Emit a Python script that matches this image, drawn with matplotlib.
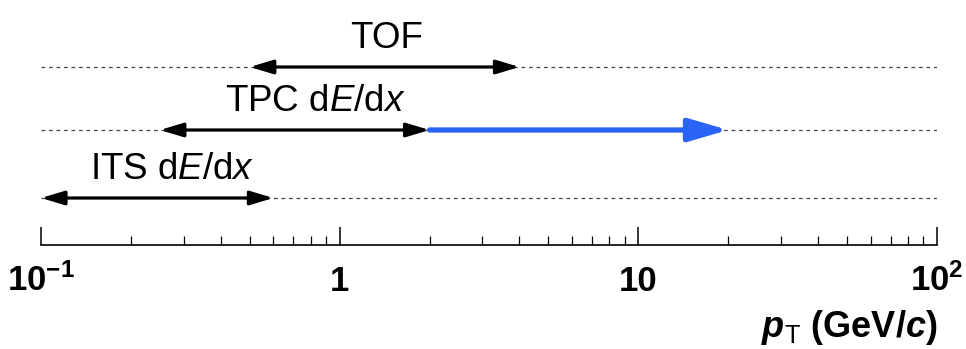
import numpy as np
import matplotlib
matplotlib.use('Agg')
import matplotlib.pyplot as plt
from matplotlib.ticker import LogLocator, NullFormatter

plt.rcParams['font.family'] = ['Liberation Sans', 'DejaVu Sans']
plt.rcParams['mathtext.fontset'] = 'custom'
plt.rcParams['mathtext.rm'] = 'Liberation Sans'
plt.rcParams['mathtext.it'] = 'Liberation Sans:italic'
plt.rcParams['mathtext.bf'] = 'Liberation Sans:bold'
plt.rcParams['mathtext.bfit'] = 'Liberation Sans:bold:italic'

# detectors and their pT ranges (GeV/c)
detectors = ['ITS', 'TPC', 'TOF']
labels = ['ITS d$\\it{E}$/d$\\it{x}$', 'TPC d$\\it{E}$/d$\\it{x}$', 'TOF']
pt_low = [0.1, 0.25, 0.5]
pt_high = [0.6, 2.0, 4.0]
label_x = [0.274, 0.83, 1.44]
# TPC relativistic rise extension
ext_low = 2.0
ext_high = 20.0

major_ticks = [0.1, 1, 10, 100]
tick_labels = ['$\\mathbf{10^{-1}}$', '1', '10', '$\\mathbf{10^{2}}$']

fig = plt.figure(figsize=(9.66, 3.49), dpi=100)
ax = fig.add_axes([41 / 966, 104 / 349, 896 / 966, 245 / 349])
ax.set_xscale('log')
ax.set_xlim(0.1, 100)
ax.set_ylim(0, 245)

levels = [47, 115, 178]

for i in range(3):
    y = levels[i]
    ax.hlines(y, 0.1, 100, colors='#444444', linestyles=(0, (3, 3)), lw=0.9, zorder=1)
    ax.annotate('', xy=(pt_high[i], y), xytext=(pt_low[i], y),
                arrowprops=dict(arrowstyle='<|-|>,head_length=1.4,head_width=0.42',
                                lw=2.3, color='black', shrinkA=0, shrinkB=0),
                zorder=3)
    ax.text(label_x[i], y + 19, labels[i], ha='center', va='baseline', fontsize=26.5)

ax.annotate('', xy=(ext_high, levels[1]), xytext=(ext_low, levels[1]),
            arrowprops=dict(arrowstyle='-|>,head_length=2.4,head_width=0.7',
                            lw=3.8, color='#2a64f6', shrinkA=0, shrinkB=0),
            zorder=3)

for s in ['top', 'left', 'right']:
    ax.spines[s].set_visible(False)
ax.spines['bottom'].set_linewidth(1.2)
ax.set_yticks([])

ax.set_xticks(major_ticks)
ax.set_xticklabels(tick_labels, fontsize=25, fontweight='bold')
ax.xaxis.set_minor_locator(LogLocator(base=10, subs=np.arange(2, 10)))
ax.xaxis.set_minor_formatter(NullFormatter())
ax.tick_params(axis='x', which='major', direction='in', length=13, width=1.1, pad=33)
ax.tick_params(axis='x', which='minor', direction='in', length=6.5, width=0.9)
for lbl in ax.get_xticklabels():
    lbl.set_va('baseline')

ax.set_xlabel('$\\mathbfit{p}_{\\mathrm{T}}$ (GeV/$\\mathbfit{c}$)', fontsize=26,
              fontweight='bold', loc='right', labelpad=7)

fig.savefig('out.png', dpi=100)
